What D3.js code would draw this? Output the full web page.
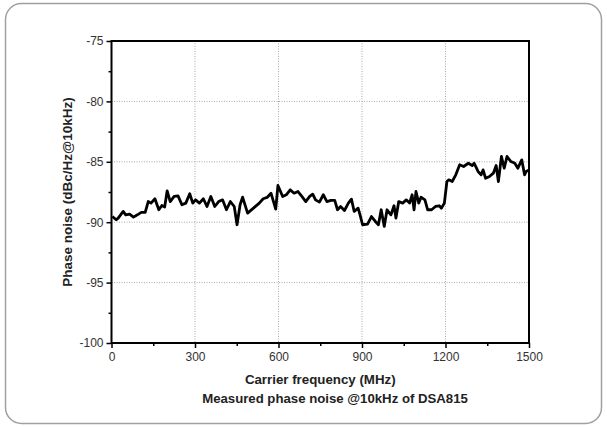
<!DOCTYPE html>
<html><head><meta charset="utf-8">
<script src="https://cdn.jsdelivr.net/npm/d3@7"></script>
<style>body{margin:0;background:#fff;}svg{display:block;font-family:"Liberation Sans",Arial,sans-serif;}</style>
</head><body><svg id="c" width="607" height="427"></svg>
<script>
const freq = [3,17,24,42,51,65,79,93,107,121,132,142,156,170,181,191,200,211,225,239,253,267,281,292,302,316,330,343,357,371,385,399,413,427,441,451,462,471,489,510,531,545,559,573,590,598,615,628,642,656,670,684,698,712,723,733,747,761,774,788,802,812,823,837,851,862,872,886,893,902,920,934,948,959,969,980,990,1004,1015,1022,1032,1046,1059,1071,1080,1087,1094,1104,1112,1126,1136,1150,1164,1178,1185,1196,1205,1212,1224,1237,1251,1265,1282,1296,1303,1317,1328,1335,1344,1358,1372,1382,1390,1401,1411,1421,1435,1449,1460,1474,1484,1490,1500];
const noise = [-89.53,-89.80,-89.66,-89.11,-89.39,-89.33,-89.58,-89.39,-89.19,-89.19,-88.29,-88.42,-88.06,-88.97,-88.62,-88.75,-87.40,-88.29,-87.87,-87.82,-88.56,-88.42,-87.65,-88.42,-88.15,-88.42,-88.06,-88.70,-87.87,-88.70,-88.29,-88.15,-88.97,-88.29,-88.70,-90.21,-88.56,-87.93,-89.25,-88.84,-88.42,-88.06,-87.95,-87.60,-88.92,-86.96,-87.87,-87.73,-87.32,-87.60,-87.46,-87.87,-88.29,-87.87,-87.68,-88.15,-88.34,-87.73,-88.29,-88.20,-88.20,-88.97,-88.70,-89.03,-88.42,-88.09,-89.11,-88.84,-89.39,-90.21,-90.16,-89.53,-89.94,-90.21,-88.97,-90.35,-88.97,-89.39,-88.64,-89.66,-88.29,-88.42,-88.15,-88.42,-87.73,-88.97,-87.46,-88.42,-87.93,-88.15,-88.97,-88.97,-88.70,-88.64,-88.84,-88.42,-86.63,-86.49,-86.63,-86.08,-85.25,-85.39,-85.12,-85.31,-85.12,-85.80,-86.08,-85.67,-86.36,-86.22,-85.94,-85.31,-86.63,-84.56,-85.53,-84.56,-84.98,-85.12,-85.53,-84.84,-86.08,-85.80,-85.67];
const xTicks = [0,300,600,900,1200,1500];
const xMinor = [150,450,750,1050,1350];
const yTicks = [-75,-80,-85,-90,-95,-100];
const yMinor = [-77.5,-82.5,-87.5,-92.5,-97.5];
const xTitle = "Carrier frequency (MHz)";
const yTitle = "Phase noise (dBc/Hz@10kHz)";
const caption = "Measured phase noise @10kHz of DSA815";

const svg = d3.select("#c");
svg.append("rect").attr("x",5.5).attr("y",3.5).attr("width",596).attr("height",420)
  .attr("rx",16).attr("fill","#fff").attr("stroke","#a0a0a0").attr("stroke-width",1.5);

const L=111.5,R=529,T=41,B=343;
const x = d3.scaleLinear().domain([0,1500]).range([L,R]);
const y = d3.scaleLinear().domain([-100,-75]).range([B,T]);

const g = svg.append("g");
g.selectAll(".gx").data(xTicks.slice(1,-1)).join("line")
  .attr("x1",d=>x(d)).attr("x2",d=>x(d)).attr("y1",T).attr("y2",B)
  .attr("stroke","#aaa").attr("stroke-width",1).attr("stroke-dasharray","1,1.5");
g.selectAll(".gy").data(yTicks.slice(1,-1)).join("line")
  .attr("x1",L).attr("x2",R).attr("y1",d=>y(d)).attr("y2",d=>y(d))
  .attr("stroke","#aaa").attr("stroke-width",1).attr("stroke-dasharray","1,1.5");

const line = d3.line().x((d,i)=>x(freq[i])).y(d=>y(d));
g.append("path").datum(noise).attr("d",line).attr("fill","none")
  .attr("stroke","#000").attr("stroke-width",2.8).attr("stroke-linejoin","round");

const xa = d3.axisBottom(x).tickValues(xTicks).tickSize(5).tickPadding(4).tickFormat(d3.format("d"));
const ya = d3.axisLeft(y).tickValues(yTicks).tickSize(5).tickPadding(3).tickFormat(d=>String(d));
const gx = svg.append("g").attr("transform",`translate(0,${B})`).call(xa);
const gy = svg.append("g").attr("transform",`translate(${L},0)`).call(ya);
const gxm = svg.append("g").attr("transform",`translate(0,${B})`)
  .call(d3.axisBottom(x).tickValues(xMinor).tickSize(3).tickFormat(""));
const gym = svg.append("g").attr("transform",`translate(${L},0)`)
  .call(d3.axisLeft(y).tickValues(yMinor).tickSize(3).tickFormat(""));
[gx,gy,gxm,gym].forEach(a=>{
  a.select(".domain").remove();
  a.selectAll("line").attr("stroke","#000").attr("stroke-width",1.5);
  a.selectAll("text").attr("fill","#333").style("font-size","12px").style("font-family","'Liberation Sans',Arial,sans-serif");
});
svg.append("rect").attr("x",L).attr("y",T).attr("width",R-L).attr("height",B-T)
  .attr("fill","none").attr("stroke","#000").attr("stroke-width",2);

svg.append("text").attr("x",(L+R)/2).attr("y",384).attr("text-anchor","middle")
  .style("font-size","13.3px").style("font-weight","bold").attr("fill","#222").text(xTitle);
svg.append("text").attr("transform",`translate(72,${(T+B)/2}) rotate(-90)`).attr("text-anchor","middle")
  .style("font-size","13.5px").style("font-weight","bold").attr("fill","#222").text(yTitle);
svg.append("text").attr("x",335).attr("y",403).attr("text-anchor","middle")
  .style("font-size","13.2px").style("font-weight","bold").attr("fill","#222").text(caption);
</script></body></html>
